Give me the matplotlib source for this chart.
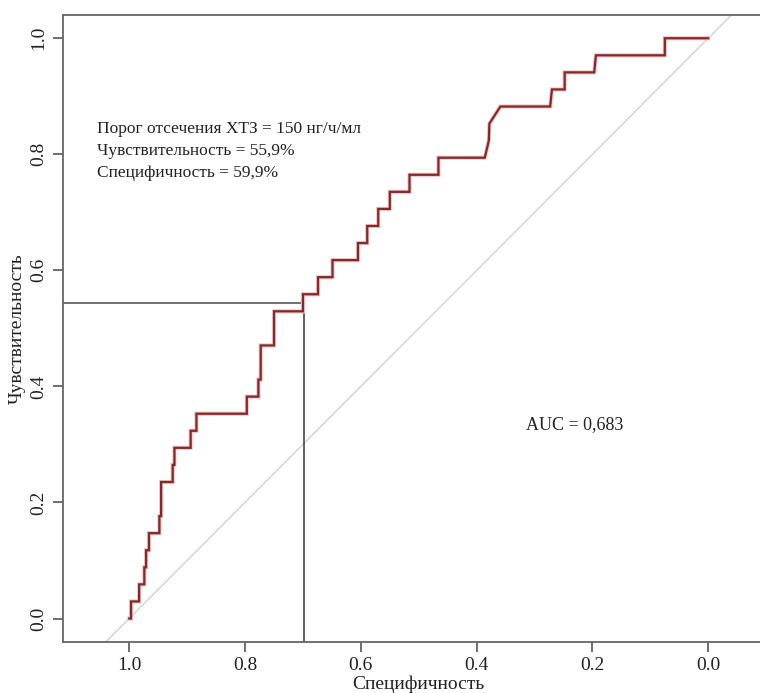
import matplotlib
matplotlib.use('Agg')
import matplotlib.pyplot as plt

# Точки ROC-кривой: специфичность и число истинно положительных (из 34)
n_pos = 34
spec_pts = [1.000, 0.997, 0.997, 0.983, 0.983, 0.974, 0.974, 0.971, 0.971, 0.966,
            0.966, 0.948, 0.948, 0.945, 0.945, 0.925, 0.925, 0.922, 0.922, 0.894,
            0.894, 0.884, 0.884, 0.797, 0.797, 0.777, 0.777, 0.773, 0.773, 0.750,
            0.750, 0.700, 0.700, 0.674, 0.674, 0.649, 0.649, 0.605, 0.605, 0.589,
            0.589, 0.570, 0.570, 0.550, 0.550, 0.516, 0.516, 0.466, 0.466, 0.386,
            0.379, 0.378, 0.359, 0.273, 0.270, 0.248, 0.248, 0.197, 0.194, 0.075,
            0.075, 0.000]
tp_pts = [0, 0, 1, 1, 2, 2, 3, 3, 4, 4,
          5, 5, 6, 6, 8, 8, 9, 9, 10, 10,
          11, 11, 12, 12, 13, 13, 14, 14, 16, 16,
          18, 18, 19, 19, 20, 20, 21, 21, 22, 22,
          23, 23, 24, 24, 25, 25, 26, 26, 27, 27,
          28, 29, 30, 30, 31, 31, 32, 32, 33, 33,
          34, 34]
sens_pts = [t / n_pos for t in tp_pts]

# Точка отсечения
cut_spec = 0.698
cut_sens = 0.543

info_lines = ['Порог отсечения ХТЗ = 150 нг/ч/мл',
              'Чувствительность = 55,9%',
              'Специфичность = 59,9%']
auc_text = 'AUC = 0,683'

plt.rcParams['font.family'] = ['Liberation Serif', 'DejaVu Serif']

fig = plt.figure(figsize=(7.6, 6.93), dpi=100)
ax = fig.add_axes([0.0825, 0.074, 0.937, 0.9043])

xmin, xmax = 1.115, -0.115
ymin, ymax = -0.04, 1.04
ax.set_xlim(xmin, xmax)
ax.set_ylim(ymin, ymax)

# Диагональ
ax.plot([xmin, xmax], [1 - xmin, 1 - xmax], color='#d6d6d6', lw=1.1, zorder=1)

# Линии точки отсечения
ax.plot([xmin, cut_spec], [cut_sens, cut_sens], color='#666666', lw=1.3, zorder=2)
ax.plot([cut_spec, cut_spec], [ymin, cut_sens], color='#555555', lw=1.3, zorder=2)

# ROC-кривая
ax.plot(spec_pts, sens_pts, color='#f0c4c4', lw=3.0, zorder=3, solid_joinstyle='miter')
ax.plot(spec_pts, sens_pts, color='#84282a', lw=1.6, zorder=4, solid_joinstyle='miter')

# Подписи
for i, line in enumerate(info_lines):
    ax.text(1.056, 0.843 - i * 0.038, line, ha='left', va='center', fontsize=12.5, color='#222222')
ax.text(0.23, 0.335, auc_text, ha='center', va='center', fontsize=13, color='#222222')

ax.set_xticks([1.0, 0.8, 0.6, 0.4, 0.2, 0.0])
ax.set_xticklabels(['1.0', '0.8', '0.6', '0.4', '0.2', '0.0'])
ax.set_yticks([0.0, 0.2, 0.4, 0.6, 0.8, 1.0])
ax.set_yticklabels(['0.0', '0.2', '0.4', '0.6', '0.8', '1.0'], rotation=90, va='center')
ax.tick_params(direction='out', length=7, width=1.2, colors='#555555',
               labelsize=14, labelcolor='#222222', pad=4)

for s in ax.spines.values():
    s.set_color('#666666')
    s.set_linewidth(1.3)

ax.set_xlabel('Специфичность', fontsize=14, color='#222222', labelpad=1)
ax.set_ylabel('Чувствительность', fontsize=14, color='#222222', labelpad=3)

fig.savefig('out.png', dpi=100)
